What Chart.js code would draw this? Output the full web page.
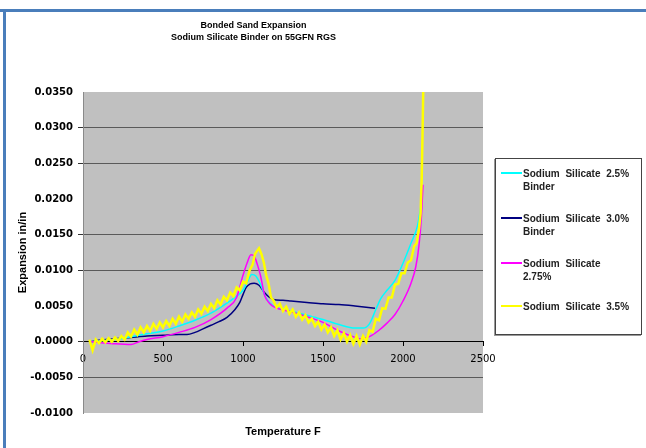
<!DOCTYPE html>
<html><head><meta charset="utf-8">
<script src="https://cdn.jsdelivr.net/npm/chart.js@4.4.0/dist/chart.umd.min.js"></script>
<style>
html,body{margin:0;padding:0;background:#fff;}
#wrap{position:relative;width:646px;height:448px;overflow:hidden;background:#fff;}
canvas{position:absolute;left:0;top:0;}
.bl{position:absolute;background:#4a7ebb;}
#legend{position:absolute;left:495px;top:158px;width:147px;height:177px;border:1px solid #444;box-sizing:border-box;box-shadow:-1px 1px 0 #999;background:#fff;font:bold 10px "Liberation Sans",Arial,sans-serif;color:#222;}
.sw{position:absolute;left:5px;width:21px;height:2px;}
.tx{position:absolute;left:27px;line-height:13px;word-spacing:3px;white-space:nowrap;}
</style></head><body>
<div id="wrap">
<canvas id="c" width="646" height="448"></canvas>
<div class="bl" style="left:0;top:9px;width:646px;height:3px"></div>
<div class="bl" style="left:3px;top:9px;width:3px;height:439px"></div>
<div id="legend"></div>
</div>
<script>
// ---- text ----
const titleLines = ["Bonded Sand Expansion", "Sodium Silicate Binder on 55GFN RGS"];
const xTitle = "Temperature F";
const yTitle = "Expansion in/in";
const seriesNames = ["Sodium Silicate 2.5% Binder", "Sodium Silicate 3.0% Binder", "Sodium Silicate 2.75%", "Sodium Silicate 3.5%"];
const legendLines = [["Sodium Silicate 2.5%", "Binder"], ["Sodium Silicate 3.0%", "Binder"], ["Sodium Silicate", "2.75%"], ["Sodium Silicate 3.5%"]];
const seriesColors = ["#00ffff", "#000080", "#ff00ff", "#ffff00"];

// ---- ticks ----
const xTicks = [0, 500, 1000, 1500, 2000, 2500];
const yTicks = [-0.01, -0.005, 0, 0.005, 0.01, 0.015, 0.02, 0.025, 0.03, 0.035];

// ---- series: Sodium Silicate 2.5% Binder (cyan) ----
const cyanT = [50,100,200,300,400,500,600,700,800,900,950,1000,1030,1055,1080,1110,1140,1170,1200,1300,1400,1500,1600,1700,1750,1790,1830,1860,1900,1950,2000,2050,2090,2110,2120];
const cyanV = [0.0000,0.0001,0.0003,0.0007,0.0011,0.0015,0.0022,0.0030,0.0040,0.0054,0.0062,0.0072,0.0085,0.0094,0.0092,0.0080,0.0063,0.0054,0.0049,0.0043,0.0037,0.0031,0.0024,0.0019,0.0019,0.0025,0.0045,0.0060,0.0072,0.0086,0.0110,0.0138,0.0162,0.0188,0.0205];

// ---- series: Sodium Silicate 3.0% Binder (navy) ----
const navyT = [50,100,200,300,400,500,600,650,700,750,800,850,900,950,980,1000,1020,1045,1070,1100,1130,1160,1190,1250,1300,1400,1500,1600,1700,1825];
const navyV = [0.0000,0.0002,0.0004,0.0006,0.0008,0.0009,0.0010,0.0010,0.0013,0.0018,0.0023,0.0028,0.0034,0.0045,0.0055,0.0066,0.0076,0.0081,0.0082,0.0079,0.0070,0.0063,0.0059,0.0058,0.0057,0.0055,0.0053,0.0052,0.0050,0.0047];

// ---- series: Sodium Silicate 2.75% (magenta) ----
const magT = [50,100,200,300,350,400,500,600,700,800,900,960,1000,1025,1050,1070,1090,1110,1135,1165,1200,1300,1400,1500,1600,1700,1740,1790,1850,1900,1950,2000,2050,2080,2100,2115,2125];
const magV = [0.0000,-0.0001,-0.0003,-0.0004,0.0000,0.0003,0.0007,0.0013,0.0020,0.0031,0.0047,0.0062,0.0093,0.0110,0.0122,0.0120,0.0108,0.0092,0.0065,0.0054,0.0048,0.0042,0.0035,0.0027,0.0015,0.0006,0.0004,0.0007,0.0016,0.0026,0.0038,0.0057,0.0082,0.0105,0.0135,0.0175,0.0220];

// ---- series: Sodium Silicate 3.5% (yellow, noisy) ----
const yelT = [40,60,80,100,120,140,160,180,200,220,240,260,280,300,320,340,360,380,400,420,440,460,480,500,520,540,560,580,600,620,640,660,680,700,720,740,760,780,800,820,840,860,880,900,920,940,960,980,1000,1020,1040,1060,1075,1090,1100,1115,1130,1145,1160,1175,1190,1210,1230,1250,1270,1290,1310,1330,1350,1370,1390,1410,1430,1450,1470,1490,1510,1530,1550,1570,1590,1610,1630,1650,1670,1690,1710,1730,1750,1770,1790,1810,1830,1850,1870,1890,1910,1930,1950,1970,1990,2010,2030,2050,2070,2085,2100,2110,2117,2122,2127,2130];
const yelV = [0.0003,-0.0012,0.0003,-0.0002,0.0004,-0.0001,0.0005,0.0000,0.0006,0.0001,0.0008,0.0003,0.0013,0.0007,0.0017,0.0010,0.0020,0.0013,0.0022,0.0015,0.0025,0.0018,0.0027,0.0020,0.0029,0.0022,0.0032,0.0025,0.0035,0.0028,0.0038,0.0032,0.0041,0.0035,0.0045,0.0039,0.0049,0.0043,0.0053,0.0047,0.0058,0.0052,0.0063,0.0058,0.0069,0.0064,0.0076,0.0072,0.0084,0.0082,0.0099,0.0108,0.0123,0.0128,0.0131,0.0123,0.0111,0.0093,0.0081,0.0062,0.0058,0.0048,0.0053,0.0043,0.0049,0.0039,0.0045,0.0035,0.0041,0.0031,0.0037,0.0027,0.0032,0.0022,0.0028,0.0017,0.0024,0.0013,0.0020,0.0008,0.0016,0.0003,0.0012,0.0000,0.0009,-0.0003,0.0008,-0.0004,0.0008,0.0000,0.0016,0.0014,0.0032,0.0030,0.0047,0.0046,0.0062,0.0062,0.0080,0.0081,0.0096,0.0096,0.0111,0.0114,0.0134,0.0138,0.0158,0.0180,0.0230,0.0290,0.0360,0.0420];

const pts = (xs, ys) => xs.map((x, i) => ({x: x, y: ys[i]}));

// ---- legend (HTML) ----
const legend = document.getElementById('legend');
const rowTops = [7.5, 52.5, 97.5, 140.5];
legendLines.forEach((lines, i) => {
  const sw = document.createElement('div');
  sw.className = 'sw';
  sw.style.top = (rowTops[i] + 5.5) + 'px';
  sw.style.background = seriesColors[i];
  legend.appendChild(sw);
  const tx = document.createElement('div');
  tx.className = 'tx';
  tx.style.top = rowTops[i] + 'px';
  tx.innerHTML = lines.join('<br>');
  legend.appendChild(tx);
});

const gridShown = [-0.005, 0, 0.01, 0.015, 0.025, 0.03];
const isShown = v => gridShown.some(g => Math.abs(g - v) < 1e-9);

const plotBg = {
  id: 'plotBg',
  beforeDraw(chart) {
    const {ctx, chartArea: a} = chart;
    ctx.save();
    ctx.fillStyle = '#c0c0c0';
    ctx.fillRect(a.left, a.top, a.right - a.left, a.bottom - a.top);
    ctx.restore();
  }
};

const smooth = {pointRadius: 0, borderWidth: 1.5, showLine: true, cubicInterpolationMode: 'monotone', fill: false};

new Chart(document.getElementById('c'), {
  type: 'scatter',
  data: {
    datasets: [
      {label: seriesNames[3], data: pts(yelT, yelV), borderColor: seriesColors[3], backgroundColor: seriesColors[3], pointRadius: 0, borderWidth: 2.5, showLine: true, tension: 0},
      Object.assign({label: seriesNames[2], data: pts(magT, magV), borderColor: seriesColors[2], backgroundColor: seriesColors[2]}, smooth),
      Object.assign({label: seriesNames[0], data: pts(cyanT, cyanV), borderColor: seriesColors[0], backgroundColor: seriesColors[0]}, smooth),
      Object.assign({label: seriesNames[1], data: pts(navyT, navyV), borderColor: seriesColors[1], backgroundColor: seriesColors[1]}, smooth)
    ]
  },
  options: {
    responsive: false,
    animation: false,
    devicePixelRatio: 1,
    layout: {padding: {left: 24, right: 163, top: 0, bottom: 0}},
    plugins: {
      legend: {display: false},
      tooltip: {enabled: false},
      title: {display: true, text: titleLines, color: '#000',
        font: {family: 'Liberation Sans', weight: 'bold', size: 9, lineHeight: 1.389},
        padding: {top: 19.25, bottom: 47.75}},
      subtitle: {display: true, position: 'bottom', fullSize: false, text: xTitle, color: '#000',
        font: {family: 'Liberation Sans', weight: 'bold', size: 11, lineHeight: 1.2},
        padding: {top: 12.4, bottom: 9.4}}
    },
    scales: {
      x: {
        type: 'linear', position: {y: 0}, min: 0, max: 2500,
        afterBuildTicks(s) { s.ticks = xTicks.map(v => ({value: v})); },
        ticks: {callback: v => String(v), font: {family: 'DejaVu Sans', size: 10}, color: '#000', padding: 8, maxRotation: 0, autoSkip: false},
        grid: {drawOnChartArea: false, tickLength: 4, color: '#000', tickColor: '#000'},
        border: {color: '#000', width: 1},
        afterFit(s) { s.height = 0; }
      },
      y: {
        type: 'linear', min: -0.01, max: 0.035,
        afterBuildTicks(s) { s.ticks = yTicks.map(v => ({value: v})); },
        ticks: {callback: v => v.toFixed(4), font: {family: 'DejaVu Sans', weight: 'bold', size: 10}, color: '#000', padding: 5, autoSkip: false},
        grid: {
          color: c => (c.tick && isShown(c.tick.value)) ? '#5a5a5a' : 'rgba(0,0,0,0)',
          tickColor: c => (c.tick && isShown(c.tick.value)) ? '#333' : 'rgba(0,0,0,0)',
          tickLength: 5, lineWidth: 1
        },
        border: {color: '#8a8a8a'},
        title: {display: true, text: yTitle, color: '#000',
          font: {family: 'Liberation Sans', weight: 'bold', size: 11, lineHeight: 1.2},
          padding: {top: -8, bottom: 0}},
        afterFit(s) { s.width = 59; }
      }
    }
  },
  plugins: [plotBg]
});
</script>
</body></html>
